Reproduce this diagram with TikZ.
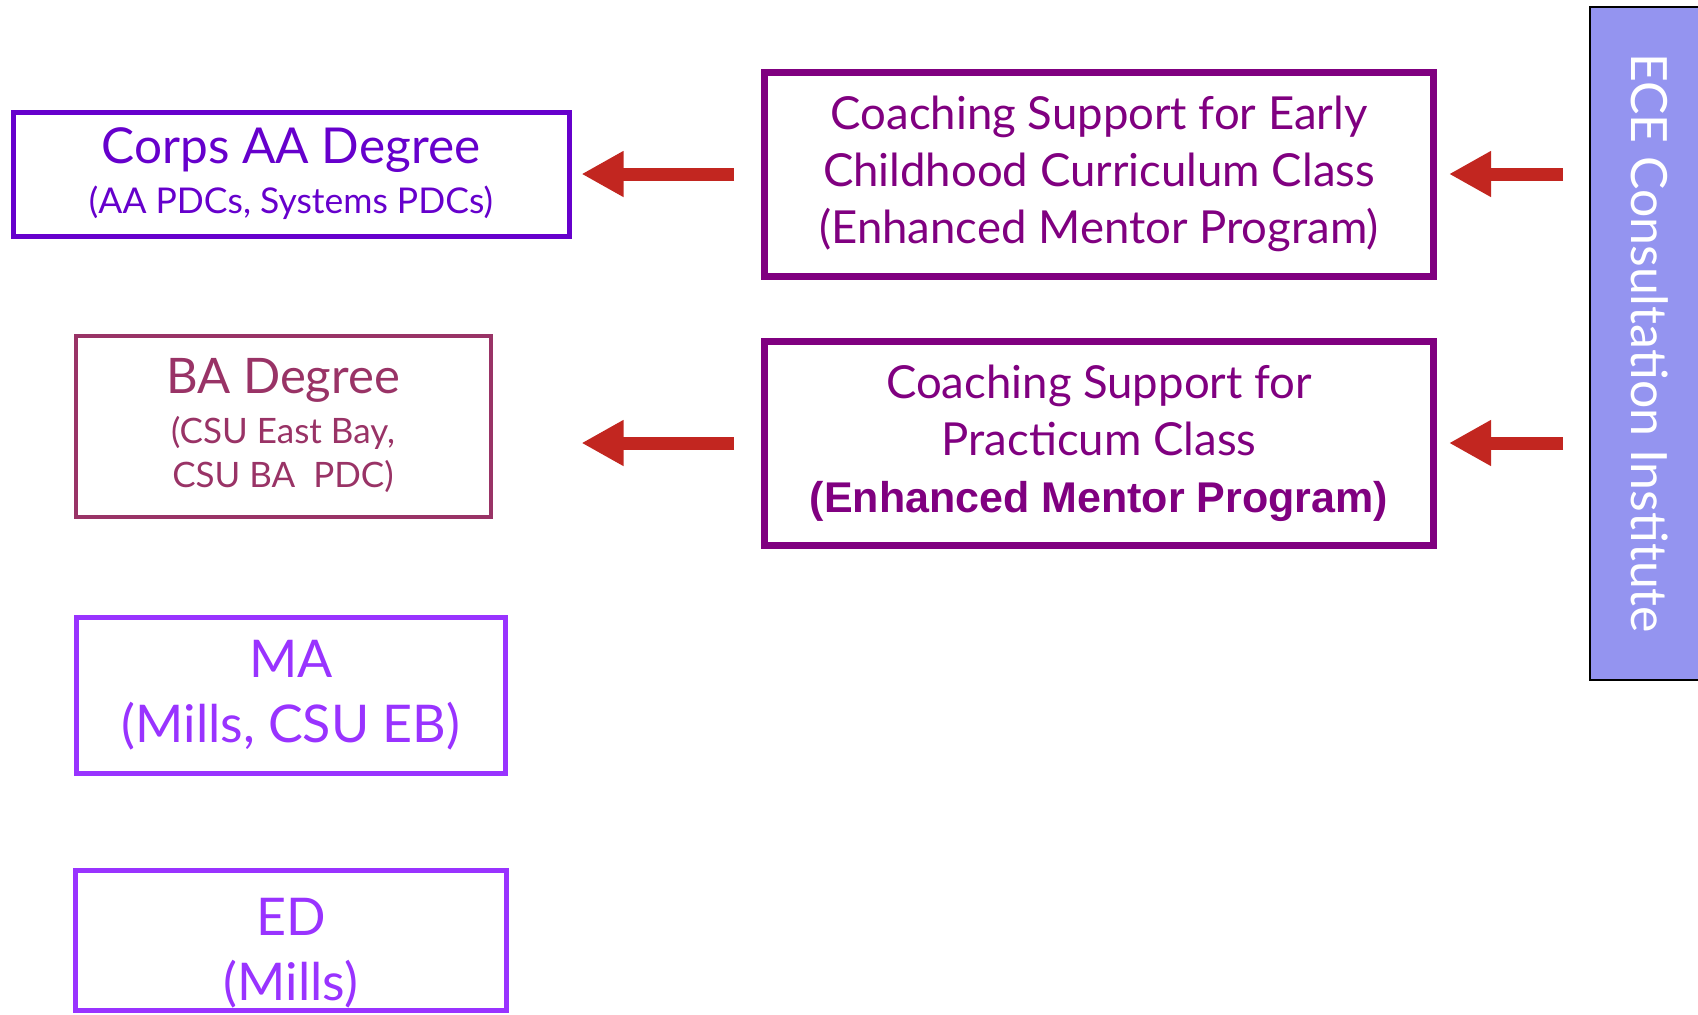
\documentclass[tikz,border=0pt]{standalone}
\usepackage{fontspec}
\setmainfont{Lato}
\setsansfont{Lato}
\newfontfamily\arialbold{Liberation Sans}
\usetikzlibrary{arrows.meta,positioning}
\definecolor{corpsblue}{RGB}{102,0,204}
\definecolor{baplum}{RGB}{153,51,102}
\definecolor{maviolet}{RGB}{153,51,255}
\definecolor{coachpurple}{RGB}{128,0,128}
\definecolor{arrowred}{RGB}{194,38,32}
\definecolor{barblue}{RGB}{148,148,240}

\begin{document}
\begin{tikzpicture}
		[x=1pt, y=-1pt, font=\sffamily, inner sep=0pt,
		degree/.style	= {rectangle, draw, line width=5pt, align=center},
		coach/.style	= {rectangle, draw=coachpurple, text=coachpurple, line width=7pt, minimum width=669pt, minimum height=204pt, align=center, font=\sffamily\fontsize{45.5}{57}\selectfont},
		institute/.style	= {rectangle, draw=black, line width=2pt, fill=barblue, text=white, rotate=-90, minimum width=673pt, minimum height=120pt, font=\sffamily\fontsize{50}{60}\selectfont},
		paths/.style	= {-{Triangle[width=43pt,length=42pt]}, draw=arrowred, line width=13pt}]
		
		\useasboundingbox (0,0) rectangle (1698,1015);
		
		\node at (291, 174)	[degree, draw=corpsblue, text=corpsblue, minimum width=556pt, minimum height=124pt, font=\sffamily\fontsize{49.5}{54}\selectfont]	(corps)
			{Corps AA Degree\\[-4pt] \fontsize{35.5}{40}\selectfont (AA PDCs, Systems PDCs)};
		\node at (283, 426)	[degree, draw=baplum, text=baplum, line width=4pt, minimum width=415pt, minimum height=181pt, font=\sffamily\fontsize{49}{54}\selectfont]	(ba)
			{BA Degree\\[-4pt] \fontsize{35}{45}\selectfont (CSU East Bay,\\[-10pt] \fontsize{35}{45}\selectfont CSU BA\ \ PDC)};
		\node at (291, 695)	[degree, draw=maviolet, text=maviolet, minimum width=429pt, minimum height=156pt, font=\sffamily\fontsize{52}{65}\selectfont]	(ma)
			{MA\\(Mills, CSU EB)};
		\node at (291, 940)	[degree, draw=maviolet, text=maviolet, minimum width=431pt, minimum height=140pt, font=\sffamily\fontsize{52}{65}\selectfont]	(ed)
			{\rule{0pt}{64pt}ED\\(Mills)};
		
		\node at (1099, 174)	[coach]	(coach1)
			{Coaching Support for Early\\Childhood Curriculum Class\\(Enhanced Mentor Program)};
		\node at (1099, 443)	[coach]	(coach2)
			{Coaching Support for\\Practicum Class\\ \arialbold\bfseries\fontsize{43}{57}\selectfont (Enhanced Mentor Program)};
		
		\node at (1650, 343)	[institute]	(eci)	{ECE Consultation Institute};
		
		\draw [paths, shorten <=27pt, shorten >=10pt] (coach1.west) -- (coach1.west -| corps.east);
		\draw [paths, shorten <=27pt, shorten >=10pt] (coach2.west) -- (coach2.west -| corps.east);
		
		\draw [paths, shorten <=26pt, shorten >=12pt] (eci.south |- coach1.east) -- (coach1.east);
		\draw [paths, shorten <=26pt, shorten >=12pt] (eci.south |- coach2.east) -- (coach2.east);
		
\end{tikzpicture}
\end{document}
